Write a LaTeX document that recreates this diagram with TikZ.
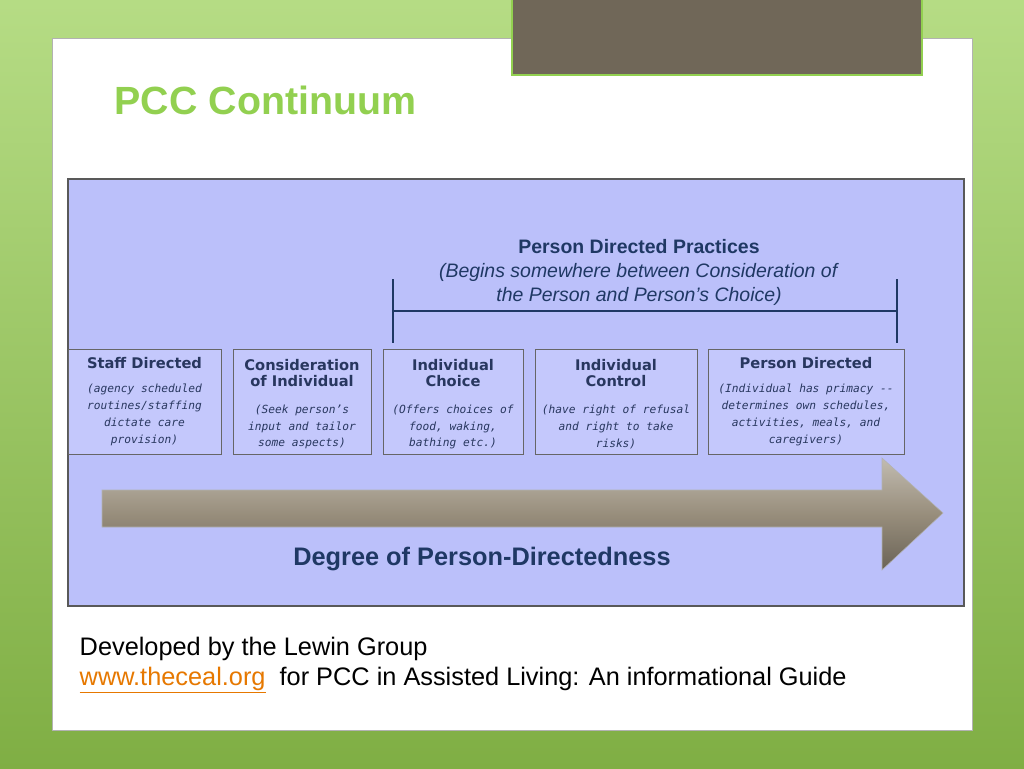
\documentclass[tikz,border=0pt]{standalone}
\usepackage{fontspec}
\setmainfont{Liberation Sans}
\newfontfamily\boxfont{DejaVu Sans}
\newfontfamily\monofont{DejaVu Sans Mono}
\definecolor{bggreen}{RGB}{150,205,80}
\definecolor{titlegreen}{RGB}{146,208,80}
\definecolor{panelblue}{RGB}{187,192,250}
\definecolor{boxblue}{RGB}{196,200,252}
\definecolor{navy}{RGB}{31,56,100}
\definecolor{boxnavy}{RGB}{40,55,95}
\definecolor{arrowfill}{RGB}{152,142,124}
\definecolor{topdark}{RGB}{112,103,88}
\definecolor{linkorange}{RGB}{230,120,0}
\begin{document}
\begin{tikzpicture}[x=0.75pt,y=-0.75pt,
  stage/.style={draw=gray!80!black,fill=boxblue,line width=0.6pt,anchor=north west,inner sep=0pt},
  sttl/.style={font=\boxfont\bfseries\fontsize{11}{12.5}\selectfont,text=boxnavy,align=center},
  sbody/.style={font=\monofont\itshape\fontsize{8.4}{12.6}\selectfont,text=boxnavy,align=center}]
\useasboundingbox (0,0) rectangle (1024,768);
\shade[top color=bggreen!70!white,bottom color=bggreen!85!black] (0,0) rectangle (1024,768);
\fill[white,draw=gray!60] (52,38) rectangle (972,730);
\fill[topdark,draw=titlegreen,line width=1.5pt] (512,-2) rectangle (922,75);
\node[anchor=west,font=\bfseries\fontsize{29.5}{32}\selectfont,text=titlegreen] (title) at (110,100) {PCC Continuum};
\fill[panelblue,draw=gray!70!black,line width=0.8pt] (68,179) rectangle (964,606);
\node[align=center,font=\fontsize{14.6}{18}\selectfont,text=navy] (pdp) at (639,272)
  {\textbf{Person Directed Practices}\\\textit{(Begins somewhere between Consideration of}\\\textit{the Person and Person’s Choice)}};
\coordinate (bl) at (393,311); \coordinate (br) at (897,311);
\draw[line width=2.2pt,navy] (393,279) -- (393,343) (897,279) -- (897,343) (bl) -- (br);
\draw[stage] (68,349) rectangle (221,454); \draw[stage] (233,349) rectangle (371,454);
\draw[stage] (383,349) rectangle (523,454); \draw[stage] (535,349) rectangle (697,454);
\draw[stage] (708,349) rectangle (904,454);
\node[sttl] (t1) at (144.5,363) {Staff Directed};
\node[sbody] (b1) at (144.5,415) {(agency scheduled\\routines/staffing\\dictate care\\provision)};
\node[sttl] (t2) at (302,373) {Consideration\\of Individual};
\node[sbody] (b2) at (302,427) {(Seek person’s\\input and tailor\\some aspects)};
\node[sttl] (t3) at (453,373) {Individual\\Choice};
\node[sbody] (b3) at (453,427) {(Offers choices of\\food, waking,\\bathing etc.)};
\node[sttl] (t4) at (616,373) {Individual\\Control};
\node[sbody] (b4) at (616,427) {(have right of refusal\\and right to take\\risks)};
\node[sttl] (t5) at (806,363) {Person Directed};
\node[sbody] (b5) at (806,415) {(Individual has primacy --\\determines own schedules,\\activities, meals, and\\caregivers)};
\shade[top color=arrowfill!60!white,bottom color=arrowfill!70!black,middle color=arrowfill,draw=gray!60]
  (102,490) -- (882,490) -- (882,458) -- (943,513) -- (882,570) -- (882,527) -- (102,527) -- cycle;
\node[font=\bfseries\fontsize{19}{22}\selectfont,text=navy] (deg) at (482,559) {Degree of Person-Directedness};
\node[anchor=west,font=\fontsize{19}{22}\selectfont] (dev) at (75,649) {Developed by the Lewin Group};
\node[anchor=west,font=\fontsize{19}{22}\selectfont] (src) at (75,680) {\textcolor{linkorange}{\underline{www.theceal.org}}\ \ for PCC in Assisted Living: An informational Guide};
\end{tikzpicture}
\end{document}
